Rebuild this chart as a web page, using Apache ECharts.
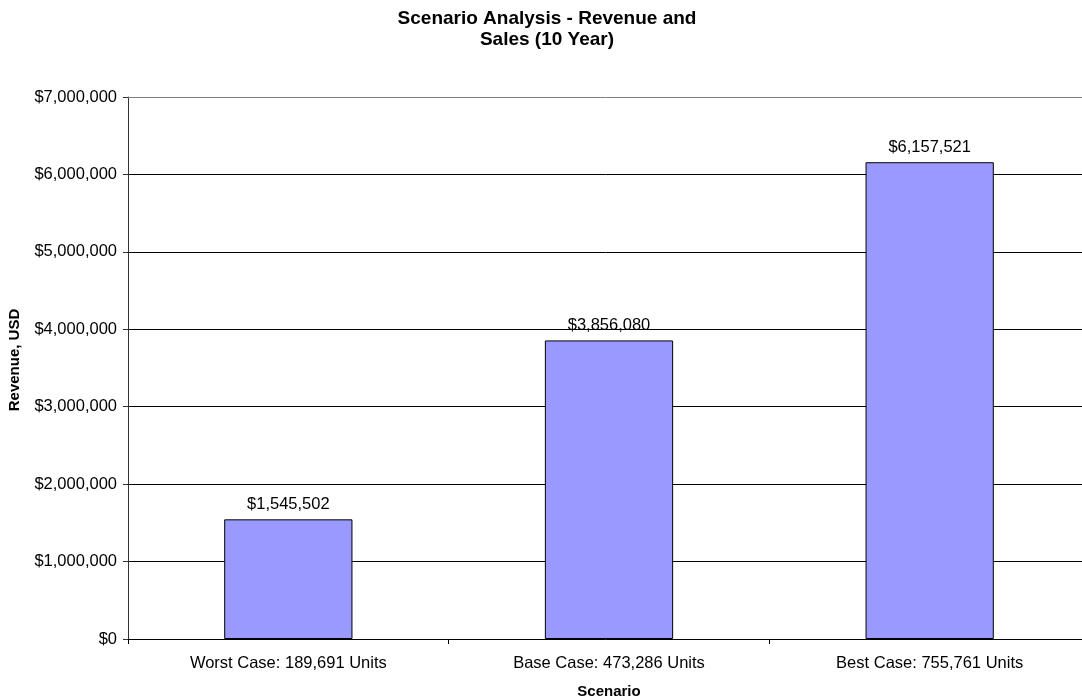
<!DOCTYPE html>
<html>
<head>
<meta charset="utf-8">
<title>Scenario Analysis - Revenue and Sales (10 Year)</title>
<script src="https://cdn.jsdelivr.net/npm/echarts@6/dist/echarts.min.js"></script>
<style>
  html, body { margin: 0; padding: 0; background: #ffffff; }
  #chart { width: 1082px; height: 698px; }
</style>
</head>
<body>
<div id="chart"></div>
<script>
// Ten-year revenue per scenario, with the unit volume in each category name
const categories = [
  'Worst Case: 189,691 Units',
  'Base Case: 473,286 Units',
  'Best Case: 755,761 Units'
];
const revenue = [1545502, 3856080, 6157521];

const yMin = 0;
const yMax = 7000000;
const yStep = 1000000;

const FONT = '"Liberation Sans", Arial, Helvetica, sans-serif';
const money = v => '$' + Math.round(v).toLocaleString('en-US');

const chart = echarts.init(document.getElementById('chart'), null, { renderer: 'canvas' });

chart.setOption({
  backgroundColor: '#ffffff',
  animation: false,
  title: {
    text: 'Scenario Analysis - Revenue and\nSales (10 Year)',
    left: 547,
    top: 8,
    padding: 0,
    textAlign: 'center',
    textStyle: {
      fontFamily: FONT,
      fontSize: 19,
      fontWeight: 'bold',
      color: '#000000',
      lineHeight: 21
    }
  },
  grid: {
    // the plot runs a little past the right edge of the canvas
    left: 128,
    top: 97,
    width: 962,
    height: 542,
    outerBoundsMode: 'none',
    containLabel: false
  },
  xAxis: [
    {
      type: 'category',
      data: categories,
      position: 'bottom',
      name: 'Scenario',
      nameLocation: 'middle',
      nameGap: 45,
      nameTextStyle: {
        fontFamily: FONT,
        fontSize: 15,
        fontWeight: 'bold',
        color: '#000000'
      },
      axisLine: { show: true, lineStyle: { color: '#000000', width: 1 } },
      axisTick: {
        show: true,
        alignWithLabel: false,
        inside: false,
        length: 5,
        lineStyle: { color: '#000000', width: 1 }
      },
      axisLabel: {
        fontFamily: FONT,
        fontSize: 16.5,
        color: '#000000',
        margin: 16
      },
      splitLine: { show: false }
    },
    {
      // grey frame line along the top of the plot area
      type: 'category',
      data: categories,
      position: 'top',
      axisLine: { show: true, lineStyle: { color: '#808080', width: 1 } },
      axisTick: { show: false },
      axisLabel: { show: false },
      splitLine: { show: false }
    }
  ],
  yAxis: {
    type: 'value',
    min: yMin,
    max: yMax,
    interval: yStep,
    name: 'Revenue, USD',
    nameLocation: 'middle',
    nameGap: 106,
    nameTextStyle: {
      fontFamily: FONT,
      fontSize: 15,
      fontWeight: 'bold',
      color: '#000000',
      padding: [0, 0, 0, 16]
    },
    axisLine: { show: true, lineStyle: { color: '#333333', width: 1 } },
    axisTick: {
      show: true,
      inside: false,
      length: 5,
      lineStyle: { color: '#333333', width: 1 }
    },
    axisLabel: {
      fontFamily: FONT,
      fontSize: 16.5,
      color: '#000000',
      margin: 11,
      formatter: money
    },
    splitLine: {
      show: true,
      showMinLine: false,
      showMaxLine: false,
      lineStyle: { color: '#000000', width: 1 }
    }
  },
  series: [
    {
      type: 'bar',
      data: revenue,
      barWidth: '40%',
      itemStyle: {
        color: '#9999ff',
        borderColor: '#000000',
        borderWidth: 1
      },
      label: {
        show: true,
        position: 'top',
        distance: 6.5,
        fontFamily: FONT,
        fontSize: 16.5,
        color: '#000000',
        formatter: p => money(p.value)
      }
    }
  ]
});
</script>
</body>
</html>
